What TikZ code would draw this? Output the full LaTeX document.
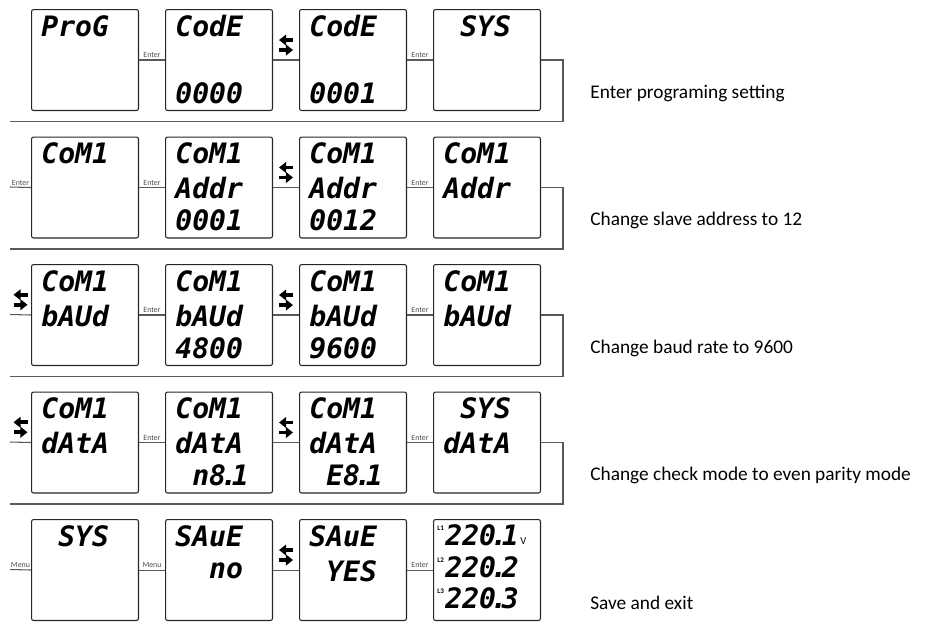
\documentclass[tikz,border=0pt]{standalone}
\usepackage{fontspec}
\setmainfont{Carlito}
\newfontfamily\lcdfont{DejaVu Sans Mono}
\usetikzlibrary{arrows.meta}
\newcommand\sk{\hphantom{0}}
\newcommand\segdot{\kern-.2em.\kern-.2em}

\begin{document}
\begin{tikzpicture}[x=0.02cm,y=-0.02cm,
    panel/.style={draw=black!85,line width=0.6pt,rounded corners=1.2pt,minimum width=2.14cm,minimum height=2.02cm,anchor=north west,inner sep=0pt},
    seg/.style={anchor=west,inner sep=0pt,font=\lcdfont\bfseries\itshape\fontsize{16}{16}\selectfont},
    wire/.style={draw=black!65,line width=0.6pt},
    key/.style={font=\fontsize{4.5}{4.5}\selectfont,text=black!70,inner sep=1pt,above},
    swap/.style={line width=2.2pt,-{Triangle[length=4pt,width=6pt]}},
    note/.style={anchor=west,inner sep=0pt,font=\fontsize{11}{13}\selectfont}]
  \useasboundingbox (0,0) rectangle (949,622);
  % displays
  \foreach \r/\c/\la/\lb/\lc in {0/0/ProG/{}/{},0/1/CodE/{}/0000,0/2/CodE/{}/0001,0/3/{\sk SYS}/{}/{},
      1/0/CoM1/{}/{},1/1/CoM1/Addr/0001,1/2/CoM1/Addr/0012,1/3/CoM1/Addr/{},
      2/0/CoM1/bAUd/{},2/1/CoM1/bAUd/4800,2/2/CoM1/bAUd/9600,2/3/CoM1/bAUd/{},
      3/0/CoM1/dAtA/{},3/1/CoM1/dAtA/{\sk n8\segdot1},3/2/CoM1/dAtA/{\sk E8\segdot1},3/3/{\sk SYS}/dAtA/{},
      4/0/{\sk SYS}/{}/{},4/1/SAuE/{\sk\sk no}/{},4/2/SAuE/{\sk YES}/{},4/3/{}/{}/{}} {
    \node[panel] (p\r\c) at (31+134*\c,9+127.5*\r) {};
    \node[seg] (t\r\c a) at ([shift={(10,17)}]p\r\c.north west) {\la};
    \node[seg] (t\r\c b) at ([shift={(10,52)}]p\r\c.north west) {\lb};
    \node[seg] (t\r\c c) at ([shift={(10,84)}]p\r\c.north west) {\lc};
  }
  % meter readout
  \foreach \i/\y/\v in {1/16/1,2/48/2,3/79/3} {
    \node[seg] (v\i) at ([shift={(12,\y)}]p43.north west) {220\segdot\v};
    \node[font=\bfseries\fontsize{4}{4}\selectfont,inner sep=0pt,anchor=north west] (l\i) at ([shift={(4,\y-9)}]p43.north west) {L\v};
  }
  \node[font=\fontsize{6}{6}\selectfont,inner sep=0.5pt,anchor=south west] (unit) at (v1.south east) {V};
  % links inside a row
  \foreach \r in {0,...,4} {
    \foreach \c/\d in {0/1,1/2,2/3} \draw[wire] (p\r\c.east) -- (p\r\d.west);
    \path (p\r1.east) -- coordinate[midway] (m\r) (p\r2.west);
    \draw[swap] ([shift={(7,-20)}]m\r) -- ([shift={(-7,-20)}]m\r);
    \draw[swap] ([shift={(-7,-10)}]m\r) -- ([shift={(7,-10)}]m\r);
  }
  \foreach \r/\c/\d/\t in {0/0/1/Enter,1/0/1/Enter,2/0/1/Enter,3/0/1/Enter,4/0/1/Menu,
      0/2/3/Enter,1/2/3/Enter,2/2/3/Enter,3/2/3/Enter,4/2/3/Enter}
    \path (p\r\c.east) -- node[key] (k\r\c) {\t} (p\r\d.west);
  % row returns
  \foreach \r in {0,...,3} {
    \coordinate (turn\r) at (563,9+127.5*\r+112.5);
    \coordinate (back\r) at (10,9+127.5*\r+112.5);
    \draw[wire] (p\r3.east) -| (turn\r) -- (back\r);
  }
  \foreach \r in {1,...,4} {
    \coordinate (in\r) at (10,9+127.5*\r+50.5);
    \draw[wire] (in\r) -- (p\r0.west);
  }
  \path (in1) -- node[key] (k1l) {Enter} (p10.west);
  \path (in4) -- node[key] (k4l) {Menu} (p40.west);
  \foreach \r in {2,3} {
    \path (in\r) -- coordinate[midway] (h\r) (p\r0.west);
    \draw[swap] ([shift={(7,-20)}]h\r) -- ([shift={(-7,-20)}]h\r);
    \draw[swap] ([shift={(-7,-10)}]h\r) -- ([shift={(7,-10)}]h\r);
  }
  % notes
  \foreach \r/\t in {0/Enter programing setting,1/Change slave address to 12,2/Change baud rate to 9600,
      3/Change check mode to even parity mode,4/Save and exit}
    \node[note] (n\r) at (590,9+127.5*\r+84) {\t};
\end{tikzpicture}
\end{document}
